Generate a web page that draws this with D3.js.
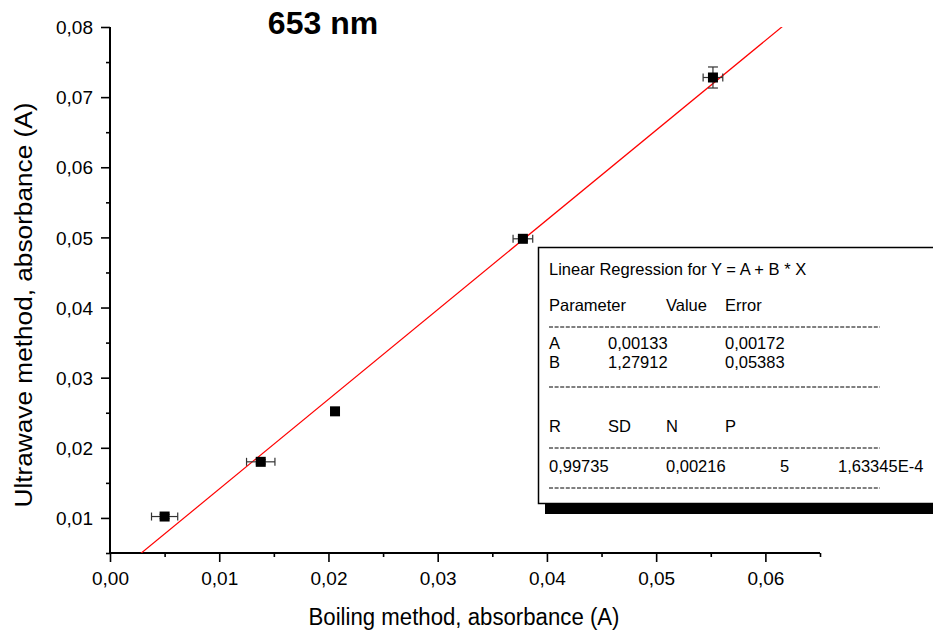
<!DOCTYPE html>
<html>
<head>
<meta charset="utf-8">
<script src="https://cdn.jsdelivr.net/npm/d3@7"></script>
<style>
  body { margin: 0; background: #fff; }
  svg { font-family: Arial, "Liberation Sans", sans-serif; }
</style>
</head>
<body>
<div id="chart"></div>
<script>
// measured points (boiling vs ultrawave), with error bars
const boiling    = [0.0050, 0.0138, 0.0206, 0.0378, 0.0552];
const ultrawave  = [0.0102, 0.0180, 0.0252, 0.0498, 0.0728];
const boilingErr = [0.0012, 0.0013, 0.0003, 0.0009, 0.0009];
const ultraErr   = [0.0003, 0.0003, 0.0003, 0.0003, 0.0015];

// fit Y = A + B * X
const fitA = 0.00133;
const fitB = 1.27912;

const xTicks = [0, 0.01, 0.02, 0.03, 0.04, 0.05, 0.06];
const yTicks = [0.01, 0.02, 0.03, 0.04, 0.05, 0.06, 0.07, 0.08];

const paramRows = [["A", "0,00133", "0,00172"], ["B", "1,27912", "0,05383"]];
const statHeader = ["R", "SD", "N", "P"];
const statValues = ["0,99735", "0,00216", "5", "1,63345E-4"];

const width = 933, height = 640;
const svg = d3.select("#chart").append("svg")
	.attr("width", width)
	.attr("height", height);

const x = d3.scaleLinear().domain([0, 0.065]).range([110, 820]);
const y = d3.scaleLinear().domain([0.005, 0.08]).range([553, 27]);
const fmt = d => d3.format(".2f")(d).replace(".", ",");

// clip for the fit line
svg.append("clipPath").attr("id", "plotClip")
	.append("rect")
	.attr("x", x(0)).attr("y", y(0.08))
	.attr("width", x(0.065) - x(0)).attr("height", y(0.005) - y(0.08));

// axes
const xAxis = svg.append("g").attr("transform", `translate(0,${y(0.005)})`);
xAxis.call(d3.axisBottom(x).tickValues(d3.range(0, 0.0651, 0.005)).tickSize(4).tickFormat(""));
xAxis.call(g => g.selectAll(".tick line").filter(d => Math.abs(d * 100 - Math.round(d * 100)) < 1e-6).attr("y2", 9));
xAxis.selectAll(".tick").filter(d => xTicks.some(t => Math.abs(t - d) < 1e-9))
	.append("text")
	.attr("y", 32)
	.attr("fill", "#000")
	.attr("font-size", 19)
	.attr("text-anchor", "middle")
	.text(d => fmt(d));

const yAxis = svg.append("g").attr("transform", `translate(${x(0)},0)`);
yAxis.call(d3.axisLeft(y).tickValues(d3.range(0.005, 0.0801, 0.005)).tickSize(4).tickFormat(""));
yAxis.call(g => g.selectAll(".tick line").filter(d => Math.abs(d * 100 - Math.round(d * 100)) < 1e-6).attr("x2", -9));
yAxis.selectAll(".tick").filter(d => yTicks.some(t => Math.abs(t - d) < 1e-9))
	.append("text")
	.attr("x", -17)
	.attr("dy", "0.35em")
	.attr("fill", "#000")
	.attr("font-size", 19)
	.attr("text-anchor", "end")
	.text(d => fmt(d));

svg.selectAll(".domain").attr("stroke", "#000").attr("stroke-width", 2);
svg.selectAll(".tick line").attr("stroke", "#000").attr("stroke-width", 1.6);
// draw the axis lines without the d3 end caps
xAxis.select(".domain").attr("d", `M${x(0)},0H${x(0.065)}`);
yAxis.select(".domain").attr("d", `M0,${y(0.005)}V${y(0.08)}`);

// titles
svg.append("text")
	.attr("x", 323).attr("y", 34)
	.attr("text-anchor", "middle")
	.attr("font-size", 32).attr("font-weight", "bold")
	.text("653 nm");

svg.append("text")
	.attr("x", 464).attr("y", 625)
	.attr("text-anchor", "middle")
	.attr("font-size", 23)
	.attr("textLength", 311)
	.attr("lengthAdjust", "spacingAndGlyphs")
	.text("Boiling method, absorbance (A)");

svg.append("text")
	.attr("transform", "translate(32,305) rotate(-90)")
	.attr("text-anchor", "middle")
	.attr("font-size", 23)
	.attr("textLength", 405)
	.attr("lengthAdjust", "spacingAndGlyphs")
	.text("Ultrawave method, absorbance (A)");

// regression line
svg.append("line")
	.attr("clip-path", "url(#plotClip)")
	.attr("x1", x(0)).attr("y1", y(fitA))
	.attr("x2", x(0.065)).attr("y2", y(fitA + fitB * 0.065))
	.attr("stroke", "#ff0000")
	.attr("stroke-width", 1.2);

// error bars
const pts = boiling.map((b, i) => ({ x: b, y: ultrawave[i], ex: boilingErr[i], ey: ultraErr[i] }));
const errG = svg.append("g").attr("stroke", "#333").attr("stroke-width", 1.2);
pts.forEach(p => {
	const cx = x(p.x), cy = y(p.y);
	const x0 = x(p.x - p.ex), x1 = x(p.x + p.ex);
	const y0 = y(p.y - p.ey), y1 = y(p.y + p.ey);
	errG.append("line").attr("x1", x0).attr("x2", x1).attr("y1", cy).attr("y2", cy);
	errG.append("line").attr("x1", x0).attr("x2", x0).attr("y1", cy - 4).attr("y2", cy + 4);
	errG.append("line").attr("x1", x1).attr("x2", x1).attr("y1", cy - 4).attr("y2", cy + 4);
	errG.append("line").attr("x1", cx).attr("x2", cx).attr("y1", y0).attr("y2", y1);
	errG.append("line").attr("x1", cx - 5).attr("x2", cx + 5).attr("y1", y0).attr("y2", y0);
	errG.append("line").attr("x1", cx - 5).attr("x2", cx + 5).attr("y1", y1).attr("y2", y1);
});

svg.append("g").selectAll("rect")
	.data(pts)
	.enter().append("rect")
	.attr("x", d => x(d.x) - 5)
	.attr("y", d => y(d.y) - 5)
	.attr("width", 10).attr("height", 10)
	.attr("fill", "#000");

// regression results box
const box = svg.append("g").attr("font-size", 16.5);
box.append("rect")
	.attr("x", 545).attr("y", 503)
	.attr("width", 400).attr("height", 11)
	.attr("fill", "#000");
box.append("rect")
	.attr("x", 538.5).attr("y", 247.5)
	.attr("width", 420).attr("height", 256)
	.attr("fill", "#fff")
	.attr("stroke", "#000")
	.attr("stroke-width", 1.5);

const col = [549, 608, 666, 725, 780, 838];
const txt = (xx, yy, s) => box.append("text").attr("x", xx).attr("y", yy).text(s);
const dash = yy => box.append("line")
	.attr("x1", 549).attr("x2", 880).attr("y1", yy).attr("y2", yy)
	.attr("stroke", "#000").attr("stroke-width", 1)
	.attr("stroke-dasharray", "4,1.6");

txt(col[0], 275, "Linear Regression for Y = A + B * X");
txt(col[0], 311, "Parameter");
txt(col[2], 311, "Value");
txt(col[3], 311, "Error");
dash(327);
paramRows.forEach((r, i) => {
	txt(col[0], 349 + i * 19, r[0]);
	txt(col[1], 349 + i * 19, r[1]);
	txt(col[3], 349 + i * 19, r[2]);
});
dash(387);
statHeader.forEach((s, i) => txt(col[i], 432, s));
dash(448);
txt(col[0], 472, statValues[0]);
txt(col[2], 472, statValues[1]);
txt(col[4], 472, statValues[2]);
txt(col[5], 472, statValues[3]);
dash(488);
</script>
</body>
</html>
